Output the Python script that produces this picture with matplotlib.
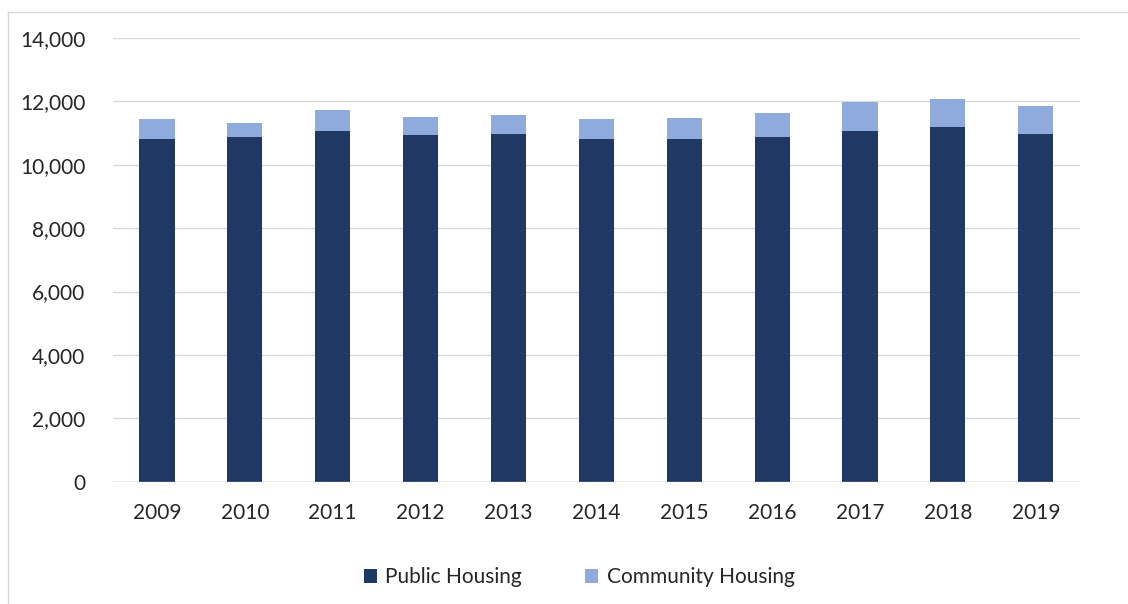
import matplotlib.pyplot as plt
from matplotlib.lines import Line2D
from matplotlib.ticker import FuncFormatter

# Valori
years = ['2009', '2010', '2011', '2012', '2013', '2014', '2015', '2016', '2017', '2018', '2019']
public_housing = [10800, 10870, 11070, 10940, 10980, 10830, 10830, 10890, 11070, 11180, 10980]
community_housing = [650, 450, 660, 580, 580, 620, 650, 740, 910, 890, 880]

plt.rcParams['font.family'] = ['Lato', 'DejaVu Sans']

fig = plt.figure(figsize=(11.28, 6.04), dpi=100)
ax = fig.add_axes([0.1002, 0.2025, 0.857, 0.7345])

x = range(len(years))
ax.bar(x, public_housing, width=0.4, color='#203864', label='Public Housing', zorder=3)
ax.bar(x, community_housing, width=0.4, bottom=public_housing, color='#8FAADC',
       label='Community Housing', zorder=3)

ax.set_xlim(-0.5, len(years) - 0.5)
ax.set_ylim(0, 14000)
ax.set_yticks(range(0, 14001, 2000))
ax.yaxis.set_major_formatter(FuncFormatter(lambda v, p: f'{int(v):,}'))
ax.set_xticks(list(x))
ax.set_xticklabels(years)
ax.grid(axis='y', color='#D9D9D9', linewidth=1, zorder=0)
ax.axhline(0, color='#BFBFBF', linewidth=1, zorder=4)
for s in ax.spines.values():
    s.set_visible(False)
ax.tick_params(axis='both', length=0, labelsize=15, colors='#262626')
ax.tick_params(axis='x', pad=15)
ax.tick_params(axis='y', pad=20)

ax.legend(loc='center', bbox_to_anchor=(0.482, -0.215), ncol=2, frameon=False,
          fontsize=15, handlelength=0.65, handleheight=0.65, columnspacing=3.0,
          handletextpad=0.4, labelcolor='#262626')

# bordo del riquadro del grafico
fig.add_artist(Line2D([8 / 1128, 8 / 1128], [0, 1 - 12 / 604], transform=fig.transFigure,
                      color='#D9D9D9', linewidth=1))
fig.add_artist(Line2D([8 / 1128, 1], [1 - 12 / 604, 1 - 12 / 604], transform=fig.transFigure,
                      color='#D9D9D9', linewidth=1))

fig.savefig('out.png', dpi=100)
